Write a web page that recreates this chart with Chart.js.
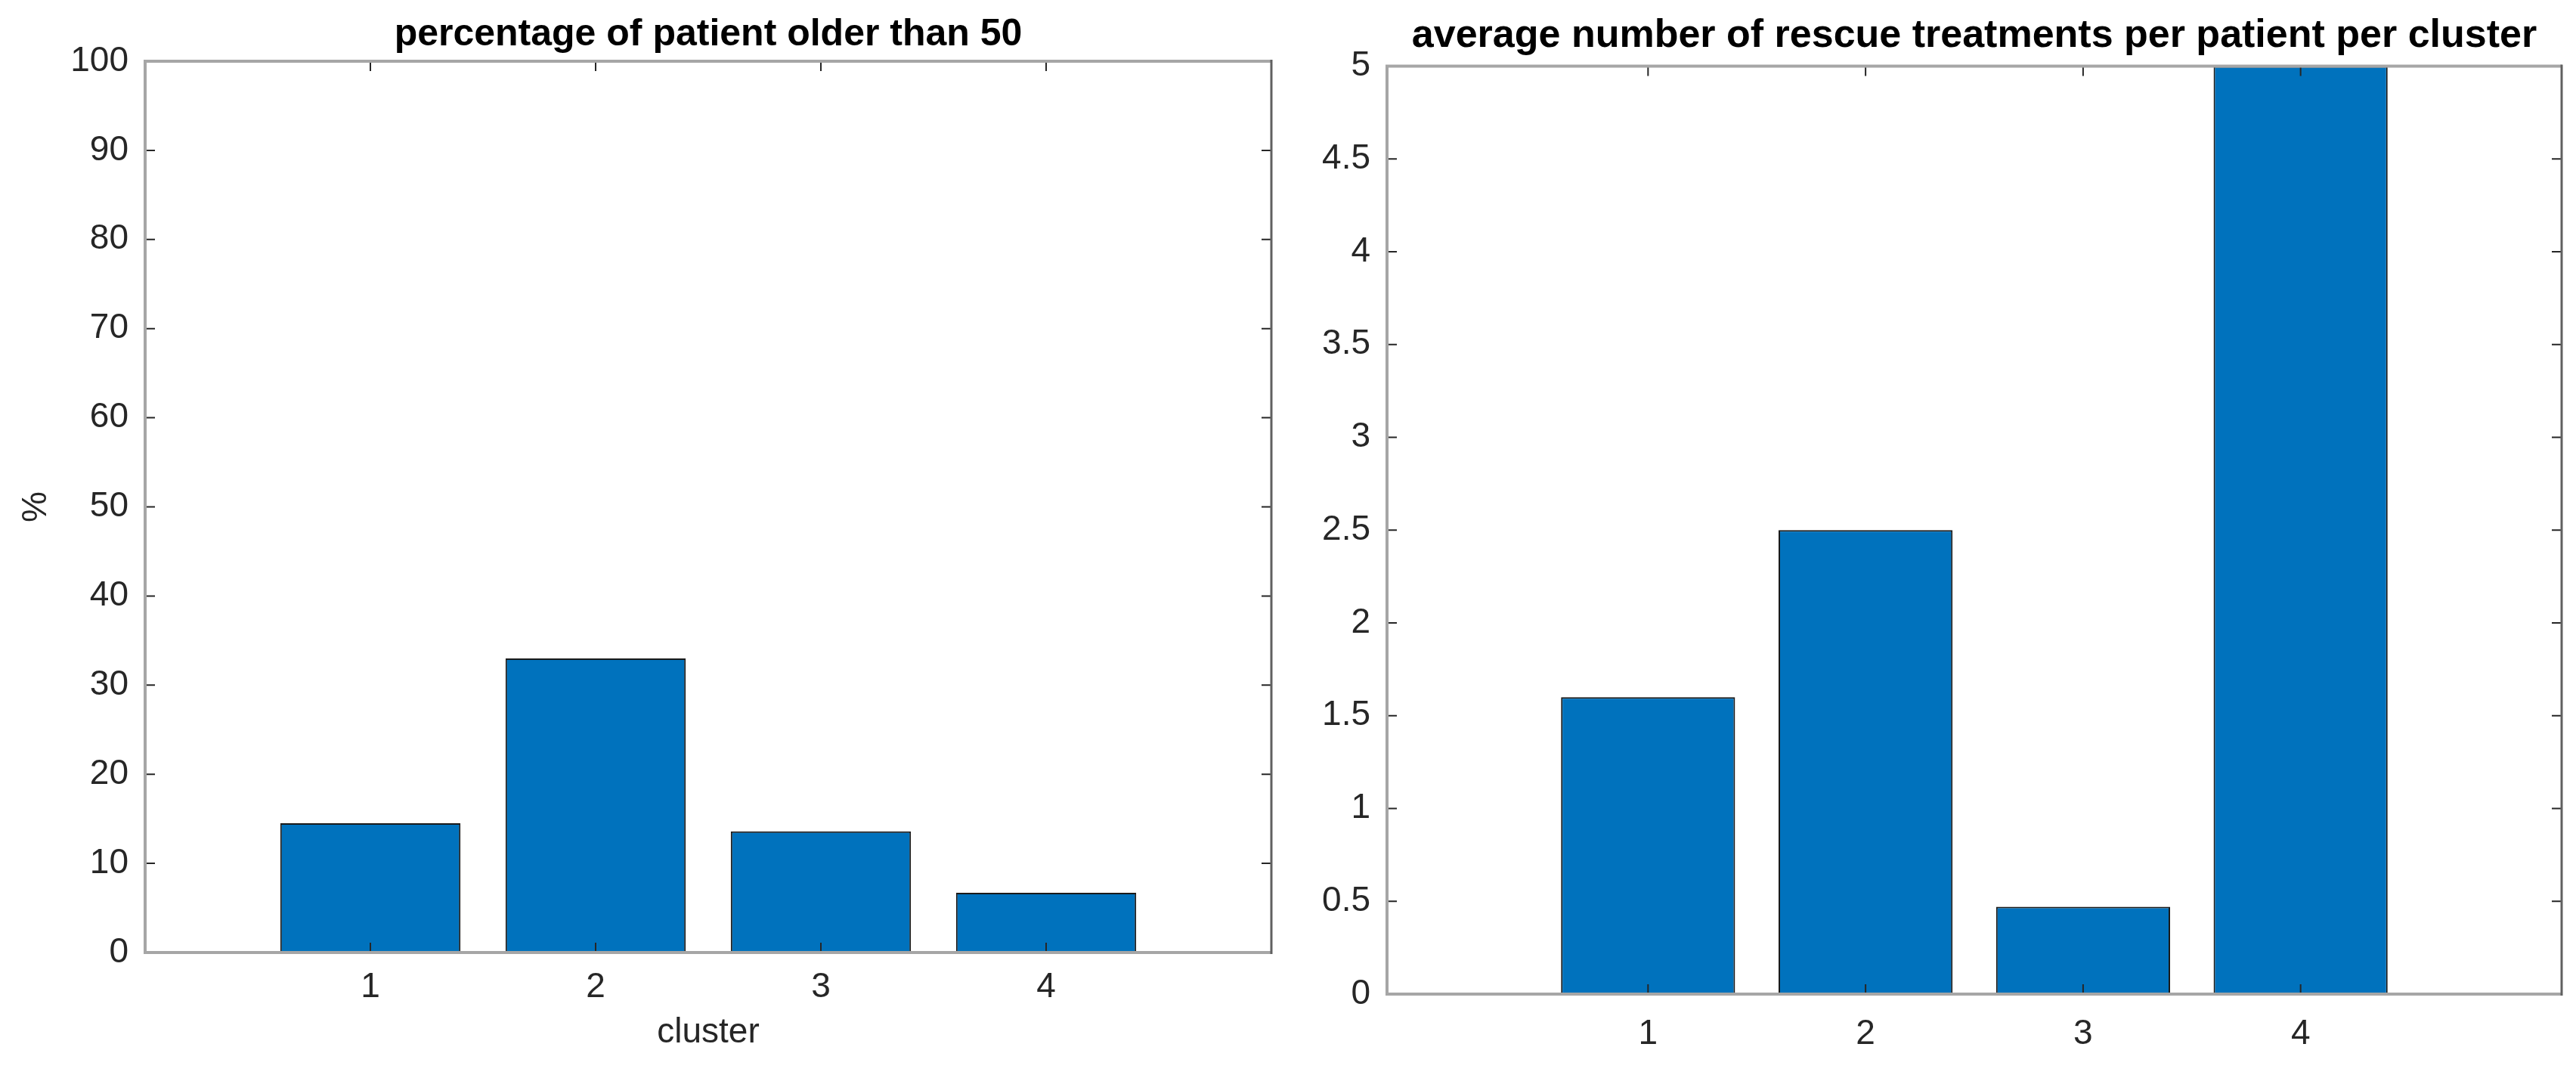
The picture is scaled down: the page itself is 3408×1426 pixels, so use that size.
<!DOCTYPE html>
<html>
<head>
<meta charset="utf-8">
<script src="https://cdn.jsdelivr.net/npm/chart.js@4.4.1/dist/chart.umd.min.js"></script>
<style>
  html, body { margin: 0; padding: 0; background: #fff; }
  #wrap { position: relative; width: 3408px; height: 1426px; overflow: hidden; }
  canvas { position: absolute; top: 0; }
</style>
</head>
<body>
<div id="wrap">
  <canvas id="ageChart" width="1704" height="1426" style="left:0"></canvas>
  <canvas id="rescueChart" width="1704" height="1426" style="left:1704px"></canvas>
</div>
<script>
// data
const clusters = [1, 2, 3, 4];
const pctOlder50 = [14.5, 33.0, 13.6, 6.7];
const rescuePerPatient = [1.6, 2.5, 0.47, 5.0];
const pctTicks = [0, 10, 20, 30, 40, 50, 60, 70, 80, 90, 100];
const pctTickLabels = ['0', '10', '20', '30', '40', '50', '60', '70', '80', '90', '100'];
const rescueTicks = [0, 0.5, 1, 1.5, 2, 2.5, 3, 3.5, 4, 4.5, 5];
const rescueTickLabels = ['0', '0.5', '1', '1.5', '2', '2.5', '3', '3.5', '4', '4.5', '5'];

Chart.defaults.font.family = '"Liberation Sans", Arial, Helvetica, sans-serif';
Chart.defaults.font.size = 46;
Chart.defaults.color = '#262626';

// matlab style box with inward ticks on all four sides
const matlabBox = {
  id: 'matlabBox',
  afterDatasetsDraw(chart) {
    const { ctx, chartArea: a, scales: { x, y } } = chart;
    const len = 13;
    ctx.save();
    ctx.strokeStyle = '#262626';
    ctx.lineWidth = 2;
    ctx.beginPath();
    y.ticks.forEach((t, i) => {
      const py = y.getPixelForTick(i);
      ctx.moveTo(a.left, py); ctx.lineTo(a.left + len, py);
      ctx.moveTo(a.right, py); ctx.lineTo(a.right - len, py);
    });
    x.ticks.forEach((t, i) => {
      const px = x.getPixelForTick(i);
      ctx.moveTo(px, a.bottom); ctx.lineTo(px, a.bottom - len);
      ctx.moveTo(px, a.top); ctx.lineTo(px, a.top + len);
    });
    ctx.stroke();
    ctx.strokeStyle = '#a6a6a6';
    ctx.lineWidth = 4;
    ctx.beginPath();
    ctx.moveTo(a.right, a.top); ctx.lineTo(a.left, a.top);
    ctx.lineTo(a.left, a.bottom); ctx.lineTo(a.right, a.bottom);
    ctx.stroke();
    ctx.strokeStyle = '#606060';
    ctx.lineWidth = 3;
    ctx.beginPath();
    ctx.moveTo(a.right, a.top - 2); ctx.lineTo(a.right, a.bottom + 2);
    ctx.stroke();
    ctx.restore();
  }
};

function makeChart(id, cfg) {
  return new Chart(document.getElementById(id), {
    type: 'bar',
    data: {
      datasets: [{
        data: clusters.map((c, i) => ({ x: c, y: cfg.values[i] })),
        backgroundColor: '#0072BD',
        borderColor: '#1a1a1a',
        borderWidth: 2,
        barPercentage: 0.8,
        categoryPercentage: 1
      }]
    },
    options: {
      responsive: false,
      animation: false,
      devicePixelRatio: 1,
      layout: { padding: { left: 0, top: 0, right: cfg.padRight, bottom: 0 } },
      plugins: {
        legend: { display: false },
        tooltip: { enabled: false },
        title: {
          display: true,
          text: cfg.title,
          fullSize: false,
          color: '#000',
          font: { size: cfg.titleSize, weight: 'bold' },
          padding: { top: 16, bottom: cfg.titleGap }
        }
      },
      scales: {
        x: {
          type: 'linear',
          min: cfg.xMin,
          max: cfg.xMax,
          offset: false,
          grid: { display: false, drawTicks: false },
          border: { display: false },
          afterBuildTicks: s => { s.ticks = clusters.map(v => ({ value: v })); },
          afterFit: s => { s.height = cfg.xHeight; },
          ticks: { padding: cfg.xPad, autoSkip: false, maxRotation: 0, callback: v => String(v) },
          title: { display: !!cfg.xTitle, text: cfg.xTitle || '', padding: { top: 0, bottom: 32 } }
        },
        y: {
          min: 0,
          max: cfg.yTicks[cfg.yTicks.length - 1],
          grid: { display: false, drawTicks: false },
          border: { display: false },
          afterBuildTicks: s => { s.ticks = cfg.yTicks.map(v => ({ value: v })); },
          afterFit: s => { s.width = cfg.yWidth; },
          ticks: { padding: 22, autoSkip: false, callback: (v, i) => cfg.yLabels[i] },
          title: { display: !!cfg.yTitle, text: cfg.yTitle || '', padding: { top: 21, bottom: 0 } }
        }
      }
    },
    plugins: [matlabBox]
  });
}

makeChart('ageChart', {
  title: 'percentage of patient older than 50',
  titleSize: 50, titleGap: 5,
  values: pctOlder50,
  yTicks: pctTicks, yLabels: pctTickLabels,
  xMin: 0, xMax: 5, xPad: 19,
  yWidth: 192, xHeight: 166, padRight: 22,
  xTitle: 'cluster', yTitle: '%'
});

makeChart('rescueChart', {
  title: 'average number of rescue treatments per patient per cluster',
  titleSize: 52, titleGap: 9,
  values: rescuePerPatient,
  yTicks: rescueTicks, yLabels: rescueTickLabels,
  xMin: -0.2, xMax: 5.2, xPad: 26,
  yWidth: 131, xHeight: 111, padRight: 19
});
</script>
</body>
</html>
